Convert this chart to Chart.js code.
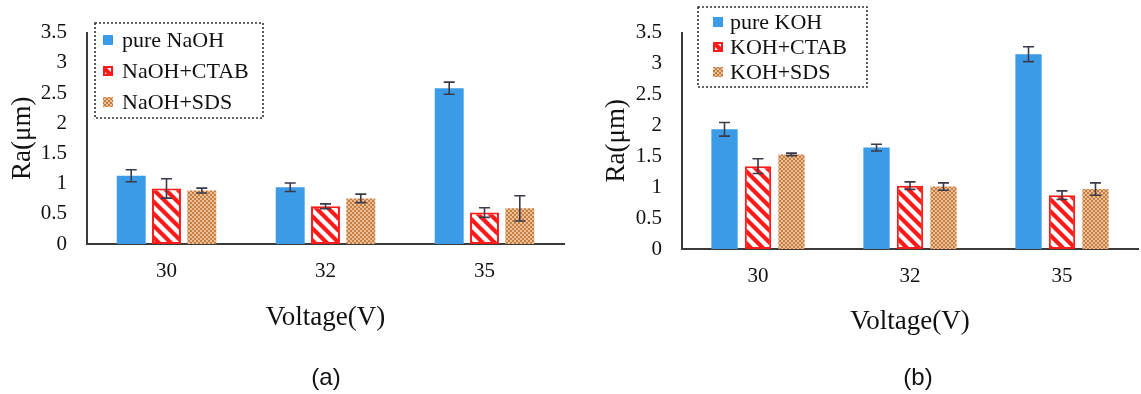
<!DOCTYPE html>
<html><head><meta charset="utf-8">
<script src="https://cdn.jsdelivr.net/npm/chart.js@4/dist/chart.umd.min.js"></script>
<style>
html,body{margin:0;padding:0;background:#fff;width:1141px;height:394px;overflow:hidden}
body{position:relative}
#ca{position:absolute;left:0;top:0}
#cb{position:absolute;left:575px;top:0}
.cap{position:absolute;top:362px;font:24px "Liberation Sans",Arial,sans-serif;color:#111;transform:translateX(-50%);line-height:30px}
</style></head><body>
<canvas id="ca" width="575" height="394"></canvas>
<canvas id="cb" width="566" height="394"></canvas>
<div class="cap" style="left:326px">(a)</div>
<div class="cap" style="left:918px">(b)</div>
<script>
// ---- data ----
const categories = ['30', '32', '35'];
const yTickLabels = ['0', '0.5', '1', '1.5', '2', '2.5', '3', '3.5'];
const xTitle = 'Voltage(V)';
const yTitle = 'Ra(μm)';

const naohLabels = ['pure NaOH', 'NaOH+CTAB', 'NaOH+SDS'];
const naohPure = [1.13, 0.94, 2.58];
const naohPureErr = [0.1, 0.07, 0.1];
const naohCtab = [0.92, 0.625, 0.52];
const naohCtabErr = [0.16, 0.04, 0.08];
const naohSds = [0.885, 0.755, 0.59];
const naohSdsErr = [0.04, 0.07, 0.21];

const kohLabels = ['pure KOH', 'KOH+CTAB', 'KOH+SDS'];
const kohPure = [1.935, 1.64, 3.15];
const kohPureErr = [0.11, 0.055, 0.12];
const kohCtab = [1.34, 1.025, 0.87];
const kohCtabErr = [0.12, 0.06, 0.07];
const kohSds = [1.53, 1.01, 0.97];
const kohSdsErr = [0.02, 0.06, 0.1];

// ---- styles ----
const SERIF = '"Liberation Serif","Times New Roman",serif';
const BLUE = '#3c9be6';
const RED = '#ff1a1a';

function hatchPattern() {
  const c = document.createElement('canvas'); c.width = 12; c.height = 12;
  const g = c.getContext('2d');
  g.fillStyle = '#fff'; g.fillRect(0, 0, 12, 12);
  g.strokeStyle = RED; g.lineWidth = 4.2;
  g.beginPath();
  g.moveTo(-6, -6); g.lineTo(18, 18);
  g.moveTo(-6, 6); g.lineTo(6, 18);
  g.moveTo(6, -6); g.lineTo(18, 6);
  g.stroke();
  return g.createPattern(c, 'repeat');
}
function dotPattern() {
  const c = document.createElement('canvas'); c.width = 4; c.height = 4;
  const g = c.getContext('2d');
  g.fillStyle = '#ecc097'; g.fillRect(0, 0, 4, 4);
  g.fillStyle = '#c57d42'; g.fillRect(0, 0, 2, 2); g.fillRect(2, 2, 2, 2);
  return g.createPattern(c, 'repeat');
}
const HATCH = hatchPattern();
const DOTS = dotPattern();

const errorBarPlugin = {
  id: 'errbars',
  afterDatasetsDraw(chart, args, opts) {
    const ctx = chart.ctx, ys = chart.scales.y;
    chart.data.datasets.forEach((ds, i) => {
      const meta = chart.getDatasetMeta(i);
      meta.data.forEach((bar, j) => {
        const v = ds.data[j], e = ds.errs[j];
        const x = bar.x, yt = ys.getPixelForValue(v + e), yb = ys.getPixelForValue(v - e);
        ctx.save();
        ctx.strokeStyle = opts.color; ctx.lineWidth = opts.width;
        ctx.beginPath();
        ctx.moveTo(x, yt); ctx.lineTo(x, yb);
        ctx.moveTo(x - opts.cap / 2, yt); ctx.lineTo(x + opts.cap / 2, yt);
        ctx.moveTo(x - opts.cap / 2, yb); ctx.lineTo(x + opts.cap / 2, yb);
        ctx.stroke(); ctx.restore();
      });
    });
  }
};

const boxLegendPlugin = {
  id: 'boxlegend',
  afterDraw(chart, args, o) {
    const ctx = chart.ctx;
    ctx.save();
    ctx.setLineDash([2, 2]);
    ctx.strokeStyle = '#333'; ctx.lineWidth = 1.6;
    ctx.strokeRect(o.x, o.y, o.w, o.h);
    ctx.setLineDash([]);
    ctx.font = '22px ' + SERIF;
    ctx.textBaseline = 'middle'; ctx.textAlign = 'left';
    chart.data.datasets.forEach((ds, i) => {
      const cy = o.y + o.firstRow + i * o.rowGap;
      const mx = o.x + o.markerX, ms = 10;
      ctx.fillStyle = ds.backgroundColor;
      ctx.fillRect(mx, cy - ms / 2, ms, ms);
      if (ds.borderWidth) {
        ctx.strokeStyle = ds.borderColor; ctx.lineWidth = 2;
        ctx.strokeRect(mx + 1, cy - ms / 2 + 1, ms - 2, ms - 2);
      }
      ctx.fillStyle = '#111';
      ctx.fillText(ds.label, o.x + o.textX, cy + 1);
    });
    ctx.restore();
  }
};

function makeDatasets(labels, vals, errs, cp, bp) {
  const fills = [BLUE, HATCH, DOTS];
  return labels.map((lab, i) => ({
    label: lab,
    data: vals[i],
    errs: errs[i],
    backgroundColor: fills[i],
    borderColor: i === 1 ? RED : 'transparent',
    borderWidth: i === 1 ? 2 : 0,
    borderSkipped: false,
    categoryPercentage: cp,
    barPercentage: bp
  }));
}

function makeChart(id, datasets, cfg) {
  return new Chart(document.getElementById(id), {
    type: 'bar',
    data: { labels: categories, datasets },
    options: {
      responsive: false,
      animation: false,
      devicePixelRatio: 1,
      layout: { padding: { left: 0, right: cfg.padRight, top: cfg.padTop, bottom: 0 } },
      plugins: {
        legend: { display: false },
        tooltip: { enabled: false },
        errbars: { color: '#3a3a4a', width: 1.6, cap: 11 },
        boxlegend: cfg.legend
      },
      scales: {
        x: {
          grid: { display: false, drawTicks: false },
          border: { display: true, color: '#3a3a3a', width: 2 },
          ticks: { color: '#111', font: { family: SERIF, size: 21 }, padding: 15 },
          title: { display: true, text: xTitle, color: '#111', font: { family: SERIF, size: 27 }, padding: { top: 0, bottom: cfg.xTitlePad } },
          afterFit(s) { s.height = cfg.xHeight; }
        },
        y: {
          min: 0, max: 3.5,
          grid: { display: false, drawTicks: false },
          border: { display: true, color: '#3a3a3a', width: 2 },
          ticks: {
            stepSize: 0.5, color: '#111', font: { family: SERIF, size: 21 }, padding: 20,
            callback: (v, i) => yTickLabels[i]
          },
          title: { display: true, text: yTitle, color: '#111', font: { family: SERIF, size: 27 }, padding: { top: cfg.yTitlePad, bottom: 0 } },
          afterFit(s) { s.width = cfg.yWidth; }
        }
      }
    },
    plugins: [errorBarPlugin, boxLegendPlugin]
  });
}

makeChart('ca',
  makeDatasets(naohLabels, [naohPure, naohCtab, naohSds], [naohPureErr, naohCtabErr, naohSdsErr], 0.666, 0.82),
  { padRight: 11, padTop: 20, xHeight: 150, xTitlePad: 60, yWidth: 87, yTitlePad: 7,
    legend: { x: 95, y: 23, w: 168, h: 95, firstRow: 17, rowGap: 31, markerX: 8, textX: 27 } });

makeChart('cb',
  makeDatasets(kohLabels, [kohPure, kohCtab, kohSds], [kohPureErr, kohCtabErr, kohSdsErr], 0.661, 0.785),
  { padRight: 3, padTop: 17, xHeight: 145, xTitlePad: 56, yWidth: 107, yTitlePad: 26,
    legend: { x: 123, y: 7, w: 169, h: 80, firstRow: 15, rowGap: 25, markerX: 15, textX: 32 } });
</script>
</body></html>
